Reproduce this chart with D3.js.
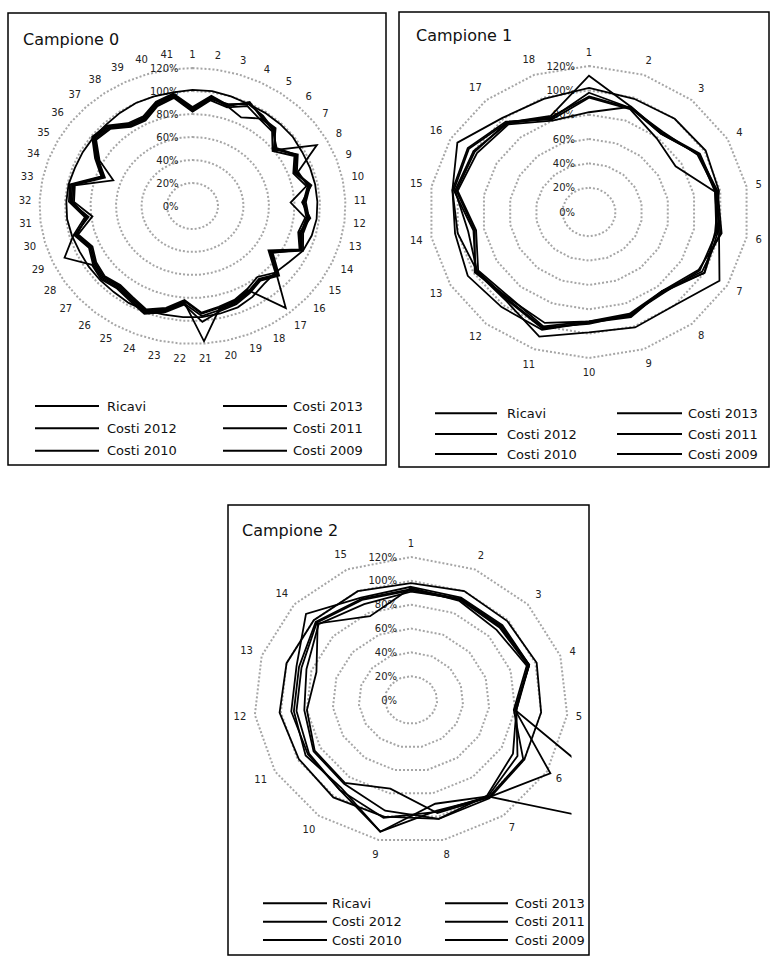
<!DOCTYPE html>
<html>
<head>
<meta charset="utf-8">
<script src="https://cdn.jsdelivr.net/npm/d3@7"></script>
<style>
  body { margin: 0; background: #fff; }
  svg { display: block; }
  text { font-family: "DejaVu Sans", sans-serif; }
</style>
</head>
<body>
<svg id="chart"></svg>
<script>
let seriesNames = ['Ricavi', 'Costi 2013', 'Costi 2012', 'Costi 2011', 'Costi 2010', 'Costi 2009']
let tickValues = [0, 20, 40, 60, 80, 100, 120]
let tickLabels = ['0%', '20%', '40%', '60%', '80%', '100%', '120%']

// Campione 0 - 41 voci
let c0Ricavi    = [101,101,100,99,99,99,99,98,98,98,98,98,97,95,90,87,88,92,95,96,97,97,97,98,98,97,97,97,97,98,99,99,99,98,98,98,98,99,100,100,100]
let c0Costi2013 = [85,96,91,101,94,94,80,111,88,92,87,90,88,93,72,90,83,87,91,93,96,85,94,100,95,92,95,93,89,96,82,96,97,75,86,98,96,87,86,94,98]
let c0Costi2012 = [83,94,93,99,96,92,82,92,85,94,89,92,90,95,74,88,115,85,89,91,94,83,92,98,93,90,93,91,87,94,84,94,95,73,84,96,94,85,84,92,96]
let c0Costi2011 = [84,95,91,86,93,93,81,94,87,93,88,91,89,94,73,89,82,86,90,92,118,84,93,99,94,91,94,92,88,95,83,95,96,74,85,97,95,86,85,93,97]
let c0Costi2010 = [86,97,92,100,95,91,83,93,86,95,86,93,87,93,75,91,84,88,92,94,101,86,95,101,96,93,96,94,110,97,85,97,98,76,87,99,97,88,87,95,99]
let c0Costi2009 = [82,93,90,97,92,90,79,91,84,91,77,89,86,92,71,87,80,84,88,90,93,82,91,97,92,89,92,90,86,93,79,93,94,66,83,95,93,84,83,91,95]

// Campione 1 - 18 voci
let c1Ricavi    = [102,99,100,101,99,96,100,85,92,91,103,102,105,102,104,114,101,99]
let c1Costi2013 = [112,92,85,96,97,99,113,100,101,99,109,96,98,88,103,104,96,84]
let c1Costi2012 = [98,91,84,95,96,98,100,86,90,91,102,95,97,92,102,100,95,82]
let c1Costi2011 = [95,91,86,94,97,100,98,85,91,90,97,93,99,87,101,99,96,83]
let c1Costi2010 = [94,90,79,75,96,97,96,87,90,92,101,94,97,100,104,105,97,81]
let c1Costi2009 = [82,92,84,95,98,101,95,85,89,90,100,92,96,86,100,97,94,80]

// Campione 2 - 15 voci
let c2Ricavi    = [98,100,99,101,100,100,102,102,100,101,99,101,100,100,100]
let c2Costi2013 = [95,94,94,95,80,223,100,96,101,93,91,92,92,108,94]
let c2Costi2012 = [93,93,93,95,80,123,101,95,113,91,93,90,90,98,93]
let c2Costi2011 = [92,92,91,94,81,94,100,89,113,93,90,88,88,97,92]
let c2Costi2010 = [91,93,92,95,81,90,99,102,95,87,86,82,84,95,88]
let c2Costi2009 = [94,91,88,93,79,99,101,97,76,86,85,80,76,96,77]

let width = 770,
    height = 956

let panels = [
    {
        title: 'Campione 0',
        series: [c0Ricavi, c0Costi2013, c0Costi2012, c0Costi2011, c0Costi2010, c0Costi2009],
        box: [8, 13, 386, 465],
        cx: 192.5, cy: 206, rx: 153, ry: 138,
        titleAt: [23, 44.5],
        legendRows: [406, 428.3, 450.7],
        legendCols: [[35, 99, 107], [223, 287, 293]],
        clip: [10, 15, 384, 390]
    },
    {
        title: 'Campione 1',
        series: [c1Ricavi, c1Costi2013, c1Costi2012, c1Costi2011, c1Costi2010, c1Costi2009],
        box: [399, 12, 769, 467],
        cx: 589, cy: 212, rx: 160, ry: 146,
        titleAt: [416, 41],
        legendRows: [413.3, 434, 454],
        legendCols: [[435, 497, 507], [617, 682, 688]],
        clip: [401, 14, 767, 395]
    },
    {
        title: 'Campione 2',
        series: [c2Ricavi, c2Costi2013, c2Costi2012, c2Costi2011, c2Costi2010, c2Costi2009],
        box: [228, 505, 589, 955],
        cx: 411, cy: 700, rx: 157, ry: 143,
        titleAt: [242, 535.5],
        legendRows: [903.3, 921.7, 940],
        legendCols: [[263, 327, 332], [445, 508, 515]],
        clip: [230, 507, 571.5, 885]
    }
]

let $svg = d3.select('#chart')
    .attr('width', width)
    .attr('height', height)

function drawPanel(p, idx) {
    let $g = $svg.append('g')

    $g.append('rect')
        .attr('x', p.box[0])
        .attr('y', p.box[1])
        .attr('width', p.box[2] - p.box[0])
        .attr('height', p.box[3] - p.box[1])
        .attr('fill', 'white')
        .attr('stroke', 'black')
        .attr('stroke-width', 1.5)

    $g.append('text')
        .attr('x', p.titleAt[0])
        .attr('y', p.titleAt[1])
        .attr('font-size', 16)
        .attr('fill', '#111')
        .text(p.title)

    let n = p.series[0].length
    let cats = p.series[0].map((d, i) => String(i + 1))

    let angle = d3.scaleLinear().domain([0, n]).range([0, 2 * Math.PI])
    let rX = d3.scaleLinear().domain([0, 120]).range([0, p.rx])
    let rY = d3.scaleLinear().domain([0, 120]).range([0, p.ry])

    let px = (v, i) => p.cx + Math.sin(angle(i)) * rX(v)
    let py = (v, i) => p.cy - Math.cos(angle(i)) * rY(v)

    let radar = d3.line()
        .x(d => px(d.v, d.i))
        .y(d => py(d.v, d.i))
        .curve(d3.curveLinearClosed)

    // dotted gridline rings
    tickValues.slice(1).forEach(t => {
        $g.append('path')
            .attr('d', radar(cats.map((c, i) => ({v: t, i: i}))))
            .attr('fill', 'none')
            .attr('stroke', '#a6a6a6')
            .attr('stroke-width', 2)
            .attr('stroke-dasharray', '2,2')
    })

    // value axis labels
    tickValues.forEach((t, k) => {
        $g.append('text')
            .attr('x', p.cx - 14)
            .attr('y', py(t, 0))
            .attr('text-anchor', 'end')
            .attr('dominant-baseline', 'central')
            .attr('font-size', 10)
            .attr('fill', '#222')
            .text(tickLabels[k])
    })

    // category labels
    cats.forEach((c, i) => {
        let s = Math.sin(angle(i)),
            co = Math.cos(angle(i)),
            w = c.length * 6.4
        let off = 8 + Math.abs(s) * w / 2 + Math.abs(co) * 6
        $g.append('text')
            .attr('x', px(120, i) + s * off)
            .attr('y', py(120, i) - co * off)
            .attr('text-anchor', 'middle')
            .attr('dominant-baseline', 'central')
            .attr('font-size', 10)
            .attr('fill', '#222')
            .text(c)
    })

    // series, clipped to plot area like Excel
    let clipId = 'plot' + idx
    $g.append('clipPath')
        .attr('id', clipId)
        .append('rect')
        .attr('x', p.clip[0])
        .attr('y', p.clip[1])
        .attr('width', p.clip[2] - p.clip[0])
        .attr('height', p.clip[3] - p.clip[1])

    $g.append('g')
        .attr('clip-path', 'url(#' + clipId + ')')
        .selectAll('path')
        .data(p.series)
        .join('path')
        .attr('d', vals => radar(vals.map((v, i) => ({v: v, i: i}))))
        .attr('fill', 'none')
        .attr('stroke', 'black')
        .attr('stroke-width', 1.8)
        .attr('stroke-linejoin', 'miter')

    // legend: two columns, row-major
    seriesNames.forEach((name, k) => {
        let col = p.legendCols[k % 2],
            y = p.legendRows[Math.floor(k / 2)]
        $g.append('line')
            .attr('x1', col[0])
            .attr('x2', col[1])
            .attr('y1', y)
            .attr('y2', y)
            .attr('stroke', 'black')
            .attr('stroke-width', 2)
        $g.append('text')
            .attr('x', col[2])
            .attr('y', y)
            .attr('dominant-baseline', 'central')
            .attr('font-size', 13)
            .attr('fill', '#111')
            .text(name)
    })
}

panels.forEach(drawPanel)
</script>
</body>
</html>
